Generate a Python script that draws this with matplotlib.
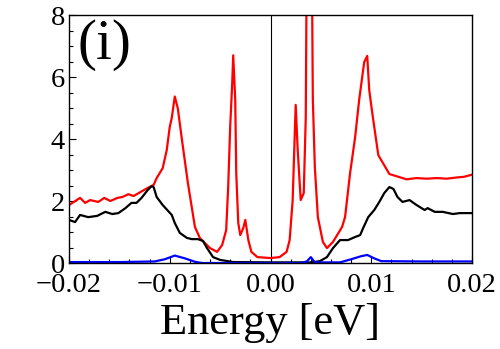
import numpy as np
import matplotlib.pyplot as plt
from matplotlib.ticker import MultipleLocator

# Red curve
e_red = [-0.0200, -0.0189, -0.0184, -0.0179, -0.0171, -0.0165, -0.0159, -0.0152, -0.0147,
         -0.0141, -0.0136, -0.0129, -0.0122, -0.0116, -0.0113, -0.0107, -0.0103, -0.0100,
         -0.0098, -0.0095, -0.0092, -0.0088, -0.0082, -0.0075, -0.0070, -0.0060, -0.0053,
         -0.0048, -0.0044, -0.0042, -0.0040, -0.0038, -0.0037, -0.0035, -0.0034, -0.0032,
         -0.0030, -0.0027, -0.0025, -0.0022, -0.0019, -0.0013, 0.0000, 0.0009, 0.0016,
         0.0019, 0.0022, 0.0025, 0.0027, 0.0030, 0.0033, 0.0035, 0.0036, 0.0041, 0.0042,
         0.0044, 0.0047, 0.0052, 0.0056, 0.0062, 0.0071, 0.0074, 0.0079, 0.0084, 0.0088,
         0.0093, 0.0096, 0.0098, 0.0101, 0.0107, 0.0118, 0.0128, 0.0135, 0.0145, 0.0155,
         0.0165, 0.0175, 0.0185, 0.0192, 0.0200]
v_red = [1.87, 2.10, 1.94, 2.03, 1.97, 2.10, 2.00, 2.10, 2.13,
         2.22, 2.16, 2.29, 2.42, 2.52, 2.74, 3.06, 3.64, 4.39,
         4.68, 5.37, 4.99, 4.00, 2.58, 1.16, 0.80, 0.48, 0.36,
         0.58, 1.06, 2.45, 4.40, 5.80, 6.70, 5.26, 2.90, 1.29,
         0.90, 1.13, 1.39, 0.74, 0.36, 0.19, 0.16, 0.19, 0.36,
         0.74, 2.03, 5.10, 3.65, 2.03, 2.26, 4.70, 10.0, 10.0, 5.30,
         3.10, 1.48, 0.68, 0.48, 0.68, 1.16, 1.48, 2.90, 4.06, 5.26,
         6.48, 6.68, 5.58, 4.84, 3.48, 2.87, 2.77, 2.70, 2.74, 2.72,
         2.74, 2.72, 2.76, 2.78, 2.85]

# Black curve
e_blk = [-0.0200, -0.0194, -0.0189, -0.0181, -0.0172, -0.0164, -0.0157, -0.0151, -0.0144,
         -0.0138, -0.0133, -0.0128, -0.0122, -0.0118, -0.0116, -0.0113, -0.0107, -0.0098,
         -0.0095, -0.0090, -0.0083, -0.0078, -0.0072, -0.0067, -0.0063, -0.0057, -0.0050,
         -0.0037, 0.0000, 0.0040, 0.0049, 0.0056, 0.0062, 0.0069, 0.0077, 0.0084, 0.0089,
         0.0092, 0.0097, 0.0103, 0.0108, 0.0113, 0.0118, 0.0122, 0.0126, 0.0131, 0.0138,
         0.0145, 0.0153, 0.0156, 0.0163, 0.0171, 0.0181, 0.0188, 0.0200]
v_blk = [1.39, 1.32, 1.55, 1.48, 1.52, 1.65, 1.58, 1.61, 1.77,
         1.94, 1.94, 2.10, 2.35, 2.48, 2.45, 2.13, 1.87, 1.55,
         1.29, 0.97, 0.81, 0.77, 0.77, 0.71, 0.48, 0.19, 0.10,
         0.03, 0.02, 0.02, 0.06, 0.19, 0.48, 0.74, 0.74, 0.84, 0.90,
         1.13, 1.48, 1.71, 1.97, 2.26, 2.45, 2.39, 2.13, 1.97, 2.03,
         1.87, 1.71, 1.77, 1.65, 1.65, 1.58, 1.61, 1.61]

# Blue curve
e_blu = [-0.0200, -0.0150, -0.0115, -0.0105, -0.0095, -0.0085, -0.0075, -0.0068, 0.0030,
         0.0036, 0.0040, 0.0044, 0.0069, 0.0080, 0.0090, 0.0096, 0.0103, 0.0110, 0.0150,
         0.0200]
v_blu = [0.03, 0.03, 0.05, 0.12, 0.24, 0.15, 0.04, 0.00, 0.00,
         0.05, 0.19, 0.02, 0.02, 0.12, 0.22, 0.26, 0.15, 0.06, 0.05,
         0.05]

plt.rcParams['font.family'] = 'Liberation Serif'

fig = plt.figure( figsize=( 5.0, 3.49 ), dpi=100 )
ax = fig.add_axes( [ 0.138, 0.2464, 0.806, 0.7106 ] )

ax.axvline( 0, color='black', lw=0.8 )
ax.plot( e_red, v_red, color='#ff0000', lw=1.6 )
ax.plot( e_blk, v_blk, color='black', lw=1.6 )
ax.plot( e_blu, v_blu, color='#0000ff', lw=1.6 )

ax.set_xlim( -0.02, 0.02 )
ax.set_ylim( 0, 8 )
ax.xaxis.set_minor_locator( MultipleLocator( 0.002 ) )
ax.yaxis.set_minor_locator( MultipleLocator( 0.5 ) )
ax.set_xticks( [ -0.02, -0.01, 0.0, 0.01, 0.02 ] )
ax.set_xticklabels( [ '\u22120.02', '\u22120.01', '0.00', '0.01', '0.02' ] )
ax.set_yticks( [ 0, 2, 4, 6, 8 ] )
ax.set_yticklabels( [ '0', '2', '4', '6', '8' ] )
ax.tick_params( which='both', direction='in', top=False, right=False, labelsize=20.5, width=0.8 )
ax.tick_params( which='major', length=5 )
ax.tick_params( axis='x', which='major', pad=7 )
ax.tick_params( axis='y', which='major', pad=3 )
ax.tick_params( which='minor', length=3 )
for s in ax.spines.values():
    s.set_linewidth( 1.0 )

ax.set_xlabel( 'Energy [eV]', fontsize=32, labelpad=4 )
ax.text( 0.02, 0.985, '(i)', transform=ax.transAxes, fontsize=41, va='top', ha='left' )

fig.savefig( 'out.png', dpi=100 )
